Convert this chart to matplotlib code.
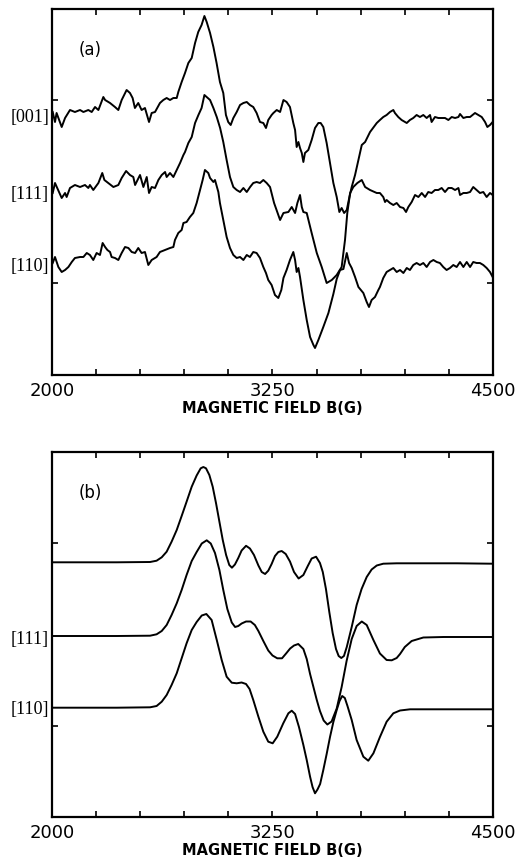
import matplotlib
matplotlib.use('Agg')
import matplotlib.pyplot as plt

# --- (a) measured spectra, field in G, signal in arbitrary units (0 = bottom of frame)
field_a_001 = [2004, 2017, 2026, 2055, 2074, 2102, 2130, 2159, 2178, 2206, 2225, 2244, 2263, 2291, 2301,
               2329, 2357, 2376, 2395, 2423, 2442, 2457, 2470, 2489, 2508, 2527, 2550, 2565, 2584, 2612,
               2631, 2650, 2669, 2688, 2707, 2716, 2735, 2754, 2773, 2792, 2811, 2829, 2848, 2864, 2877,
               2896, 2915, 2933, 2952, 2971, 2986, 2999, 3013, 3028, 3047, 3066, 3085, 3104, 3122, 3141,
               3160, 3179, 3198, 3213, 3226, 3245, 3255, 3274, 3293, 3312, 3330, 3349, 3368, 3378, 3387,
               3397, 3406, 3416, 3425, 3434, 3453, 3472, 3491, 3510, 3523, 3538, 3557, 3576, 3595, 3614,
               3629, 3642, 3656, 3671, 3686, 3699, 3718, 3737, 3756, 3775, 3803, 3841, 3859, 3878, 3897,
               3916, 3935, 3944, 3963, 3982, 4001, 4011, 4029, 4048, 4067, 4086, 4105, 4124, 4143, 4152,
               4171, 4190, 4209, 4228, 4247, 4266, 4285, 4304, 4313, 4332, 4351, 4370, 4398, 4417, 4436,
               4455, 4468, 4483, 4498]
sig_a_001 = [263, 253, 262, 248, 257, 265, 263, 265, 263, 265, 263, 268, 265, 278, 275,
             272, 268, 265, 275, 285, 282, 277, 267, 272, 265, 267, 253, 262, 263, 272,
             275, 277, 275, 277, 277, 283, 293, 302, 312, 317, 332, 343, 350, 359, 353,
             342, 328, 312, 293, 282, 260, 253, 250, 257, 263, 270, 272, 273, 270, 268,
             262, 253, 252, 247, 255, 260, 262, 265, 263, 275, 273, 268, 252, 245, 228,
             233, 227, 222, 213, 222, 225, 235, 247, 252, 252, 248, 232, 212, 192, 178,
             163, 167, 162, 165, 178, 188, 200, 215, 230, 233, 243, 252, 255, 258, 260,
             263, 265, 262, 258, 255, 253, 252, 255, 257, 260, 258, 260, 257, 260, 253,
             258, 257, 257, 257, 255, 258, 257, 258, 261, 257, 258, 258, 262, 260, 258,
             253, 248, 250, 253]

field_a_111 = [2004, 2017, 2055, 2074, 2083, 2102, 2130, 2159, 2187, 2206, 2215, 2234, 2263, 2285, 2297,
               2319, 2348, 2376, 2395, 2420, 2442, 2461, 2471, 2499, 2518, 2537, 2550, 2565, 2584, 2603,
               2622, 2641, 2650, 2669, 2688, 2707, 2726, 2745, 2754, 2773, 2792, 2811, 2830, 2848, 2864,
               2877, 2896, 2915, 2934, 2953, 2971, 2990, 3009, 3028, 3047, 3066, 3085, 3104, 3123, 3141,
               3160, 3179, 3198, 3217, 3236, 3259, 3293, 3312, 3340, 3359, 3378, 3391, 3406, 3416, 3425,
               3444, 3472, 3501, 3529, 3557, 3586, 3614, 3642, 3661, 3674, 3690, 3708, 3731, 3756, 3775,
               3803, 3841, 3859, 3878, 3888, 3897, 3916, 3935, 3954, 3973, 3992, 4007, 4020, 4039, 4058,
               4077, 4096, 4115, 4133, 4152, 4171, 4190, 4209, 4228, 4247, 4266, 4285, 4304, 4313, 4332,
               4351, 4370, 4388, 4407, 4426, 4445, 4464, 4483, 4498]
sig_a_111 = [182, 192, 177, 182, 178, 187, 190, 188, 190, 187, 190, 185, 192, 202, 195,
             192, 188, 190, 197, 204, 200, 198, 190, 200, 188, 198, 182, 188, 187, 195,
             200, 203, 198, 202, 198, 205, 212, 220, 223, 232, 238, 252, 260, 267, 280,
             278, 275, 267, 258, 247, 233, 215, 198, 188, 185, 183, 187, 183, 188, 192,
             193, 192, 195, 192, 188, 172, 155, 162, 163, 168, 162, 172, 180, 168, 163,
             162, 142, 122, 108, 92, 95, 100, 108, 135, 162, 182, 188, 192, 195, 188,
             185, 182, 182, 178, 173, 175, 172, 170, 172, 168, 167, 163, 168, 173, 180,
             178, 182, 178, 183, 182, 185, 185, 187, 183, 187, 187, 185, 187, 180, 182,
             182, 183, 188, 185, 182, 183, 178, 182, 180]

field_a_110 = [2004, 2017, 2036, 2055, 2074, 2093, 2112, 2130, 2159, 2178, 2197, 2215, 2234, 2253, 2272,
               2287, 2301, 2314, 2329, 2338, 2357, 2376, 2395, 2414, 2433, 2452, 2471, 2489, 2508, 2527,
               2546, 2565, 2593, 2612, 2641, 2669, 2688, 2697, 2716, 2735, 2745, 2763, 2782, 2801, 2820,
               2839, 2854, 2867, 2886, 2896, 2915, 2924, 2943, 2952, 2971, 2990, 3009, 3028, 3047, 3066,
               3085, 3104, 3122, 3141, 3160, 3179, 3198, 3213, 3226, 3245, 3264, 3283, 3300, 3312, 3330,
               3349, 3368, 3378, 3387, 3397, 3406, 3425, 3444, 3463, 3482, 3491, 3510, 3538, 3567, 3595,
               3614, 3633, 3652, 3671, 3684, 3699, 3718, 3737, 3765, 3784, 3797, 3812, 3831, 3850, 3859,
               3878, 3897, 3916, 3935, 3954, 3973, 3992, 4011, 4029, 4048, 4067, 4086, 4105, 4124, 4143,
               4162, 4181, 4199, 4218, 4237, 4256, 4275, 4294, 4313, 4332, 4351, 4370, 4388, 4407, 4426,
               4445, 4464, 4483, 4498]
sig_a_110 = [112, 118, 108, 103, 105, 108, 113, 117, 118, 118, 122, 120, 115, 122, 120,
             132, 128, 125, 123, 118, 117, 115, 122, 128, 127, 123, 122, 127, 122, 123,
             110, 115, 118, 123, 125, 127, 128, 135, 142, 145, 152, 153, 158, 162, 172,
             185, 195, 205, 202, 197, 193, 195, 183, 172, 155, 138, 127, 120, 117, 118,
             115, 120, 118, 123, 122, 117, 108, 102, 95, 90, 80, 77, 85, 97, 105,
             115, 123, 115, 103, 107, 98, 75, 55, 38, 30, 27, 35, 48, 62, 81,
             96, 105, 106, 122, 112, 107, 98, 88, 82, 73, 68, 75, 78, 85, 88,
             97, 103, 105, 107, 103, 105, 102, 107, 105, 110, 112, 110, 112, 108, 113,
             115, 113, 112, 108, 105, 107, 110, 108, 113, 108, 113, 108, 113, 112, 112,
             110, 107, 103, 98]

# --- (b) simulated spectra
field_b_001 = [2008, 2178, 2367, 2556, 2593, 2622, 2650, 2678, 2707, 2735, 2763, 2792, 2820, 2843, 2858,
               2873, 2892, 2911, 2930, 2949, 2968, 2987, 3005, 3020, 3037, 3056, 3075, 3100, 3122, 3145,
               3170, 3189, 3208, 3226, 3245, 3264, 3283, 3302, 3325, 3349, 3372, 3398, 3425, 3450, 3472,
               3497, 3519, 3535, 3553, 3572, 3591, 3610, 3625, 3640, 3655, 3671, 3699, 3727, 3755, 3784,
               3812, 3841, 3878, 3954, 4086, 4294, 4493]
sig_b_001 = [254.7, 254.7, 254.7, 255, 256.3, 259.7, 265.3, 275.3, 287, 301, 315.3, 330.3, 341.5, 348.7, 350,
             348.7, 342, 330.3, 313.7, 295.3, 277, 262, 252, 249.3, 252.5, 259, 266.5, 271.2, 268.5, 262,
             251.5, 245, 243, 246.3, 253, 261, 265, 266, 263, 255.5, 245, 238.5, 242, 251, 258.5,
             260.3, 254, 245, 228, 205, 184, 168, 161, 159, 161, 170, 190, 212, 228, 240,
             247.5, 251.5, 253.3, 253.7, 253.7, 253.7, 253.3]

field_b_111 = [2008, 2367, 2556, 2593, 2622, 2650, 2678, 2707, 2735, 2763, 2792, 2820, 2849, 2877, 2900,
               2924, 2949, 2971, 2994, 3019, 3038, 3056, 3075, 3100, 3126, 3150, 3170, 3198, 3226, 3250,
               3277, 3304, 3327, 3350, 3372, 3396, 3425, 3444, 3463, 3482, 3501, 3519, 3540, 3561, 3585,
               3614, 3642, 3670, 3699, 3727, 3756, 3784, 3822, 3859, 3897, 3926, 3954, 3973, 4000, 4039,
               4105, 4219, 4493]
sig_b_111 = [181, 181, 181.3, 182.7, 186, 192, 202, 213.7, 227, 242, 256, 265, 273.5, 276.7, 273.5,
             264, 247, 227, 208, 194.5, 190, 191, 193.5, 195.5, 195.5, 192, 186, 176, 166.5, 161.5,
             158.7, 158.7, 163.5, 168.5, 171.5, 173, 168, 158, 143, 130, 117, 106, 96.5, 92.5, 95.5,
             108.5, 130, 156, 178, 191, 195.5, 192, 177, 163.5, 157, 156.7, 159, 163, 170, 176,
             179.5, 180, 180]

field_b_110 = [2008, 2367, 2556, 2593, 2622, 2650, 2678, 2707, 2735, 2763, 2792, 2820, 2849, 2875, 2905,
               2934, 2962, 2990, 3019, 3047, 3075, 3100, 3120, 3141, 3170, 3198, 3226, 3251, 3277, 3311,
               3340, 3359, 3378, 3400, 3425, 3444, 3463, 3477, 3491, 3505, 3520, 3538, 3557, 3576, 3595,
               3614, 3630, 3645, 3660, 3675, 3699, 3727, 3765, 3793, 3822, 3859, 3897, 3935, 3973, 4030,
               4493]
sig_b_110 = [109.3, 109.3, 109.7, 111, 115.3, 122, 132, 143.7, 158.7, 173.7, 187, 195, 201.5, 203, 197,
             177, 157, 140.3, 134.3, 133.7, 134.5, 133, 128, 117, 100.3, 85.3, 75.3, 73.7, 80.3, 93.7,
             103.7, 106.3, 103, 90, 72, 57, 40.3, 30, 23.7, 27.5, 33, 47, 63, 80, 95,
             107, 116, 121, 119, 111, 97, 77, 60.3, 56.3, 63.7, 80, 95.3, 103.7, 106.5, 107.7,
             107.7]

xtick_values = list(range(2000, 4501, 250))
xtick_labels = ['2000', '', '', '', '', '3250', '', '', '', '', '4500']
xlabel_text = 'MAGNETIC FIELD B(G)'

panels = [
    dict(tag='(a)', top=9, bottom=375,
         traces=[(field_a_001, sig_a_001), (field_a_111, sig_a_111), (field_a_110, sig_a_110)],
         labels=[('[001]', 257.5), ('[111]', 180.5), ('[110]', 109)]),
    dict(tag='(b)', top=452, bottom=817,
         traces=[(field_b_001, sig_b_001), (field_b_111, sig_b_111), (field_b_110, sig_b_110)],
         labels=[('[111]', 178), ('[110]', 108)]),
]

W, H = 520, 863
fig = plt.figure(figsize=(W / 100, H / 100), dpi=100)

for p in panels:
    left, right = 52, 493
    ax = fig.add_axes([left / W, 1 - p['bottom'] / H, (right - left) / W, (p['bottom'] - p['top']) / H])
    ymax = p['bottom'] - p['top']
    for fx, sy in p['traces']:
        ax.plot(fx, sy, color='black', lw=1.4, solid_joinstyle='round')
    ax.set_xlim(2000, 4500)
    ax.set_ylim(0, ymax)
    ax.set_xticks(xtick_values)
    ax.set_xticklabels(xtick_labels, fontsize=13, family='DejaVu Sans')
    ax.set_yticks([0.25 * ymax, 0.75 * ymax])
    ax.set_yticklabels([])
    ax.tick_params(direction='in', length=4, width=1.2, top=True, right=True, pad=5)
    for s in ax.spines.values():
        s.set_linewidth(1.6)
    ax.set_xlabel(xlabel_text, fontsize=10.5, fontweight='bold', family='DejaVu Sans', labelpad=1)
    # panel tag, ~41 px below the top edge
    ax.annotate(p['tag'], xy=(0.086, 1 - 41 / ymax), xycoords='axes fraction', ha='center', va='center',
                fontsize=12, family='DejaVu Sans')
    for txt, yv in p['labels']:
        ax.annotate(txt, xy=(0, yv), xycoords=('axes fraction', 'data'), xytext=(-3, 0),
                    textcoords='offset pixels', ha='right', va='center', fontsize=13,
                    family='Liberation Serif', annotation_clip=False)

fig.savefig('out.png', dpi=100, facecolor='white')
